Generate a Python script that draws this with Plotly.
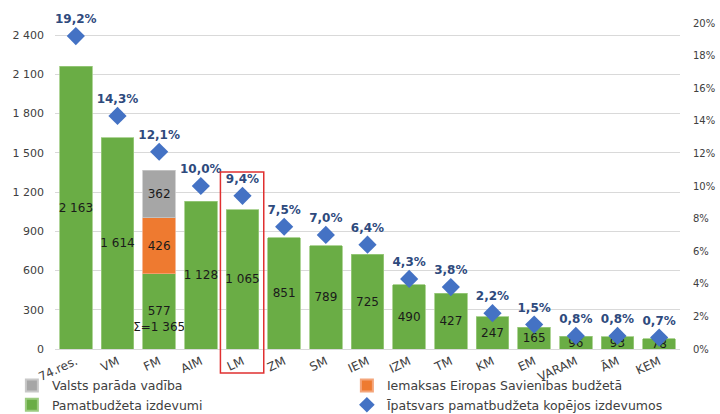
import plotly.graph_objects as go

categories = ["74.res.", "VM", "FM", "AIM", "LM", "ZM", "SM", "IEM", "IZM", "TM", "KM", "EM", "VARAM", "ĀM", "KEM"]
base_spend = [2163, 1614, 577, 1128, 1065, 851, 789, 725, 490, 427, 247, 165, 96, 93, 78]
eu_contrib = [None, None, 426, None, None, None, None, None, None, None, None, None, None, None, None]
debt_mgmt = [None, None, 362, None, None, None, None, None, None, None, None, None, None, None, None]
share_pct = [19.2, 14.3, 12.1, 10.0, 9.4, 7.5, 7.0, 6.4, 4.3, 3.8, 2.2, 1.5, 0.8, 0.8, 0.7]
fm_total_label = "Σ=1 365"
left_ticks = [0, 300, 600, 900, 1200, 1500, 1800, 2100, 2400]

def fmt_num(v):
    return f"{v:,}".replace(",", " ")

base_text = [fmt_num(v) for v in base_spend]
base_text[2] = "\u00a0<br>" + base_text[2] + "<br>" + fm_total_label
eu_text = ["" if v is None else fmt_num(v) for v in eu_contrib]
debt_text = ["" if v is None else fmt_num(v) for v in debt_mgmt]
share_text = [f"{v:.1f}%".replace(".", ",") for v in share_pct]
share_frac = [v / 100 for v in share_pct]

FONT = "DejaVu Sans, Verdana, sans-serif"
bar_font = dict(family=FONT, size=12, color="#1a1a1a")

fig = go.Figure()
fig.add_trace(go.Bar(
    x=categories, y=base_spend, name="Pamatbudžeta izdevumi",
    marker=dict(color="#6AAD45", line=dict(color="#9CCB80", width=0.8)),
    text=base_text, textposition="inside", insidetextanchor="middle",
    constraintext="none", textfont=bar_font, textangle=0,
    legendrank=3,
))
fig.add_trace(go.Bar(
    x=categories, y=eu_contrib, name="Iemaksas Eiropas Savienības budžetā",
    marker=dict(color="#EE7A30", line=dict(color="#F4A57A", width=0.8)),
    text=eu_text, textposition="inside", insidetextanchor="middle",
    constraintext="none", textfont=bar_font, textangle=0,
    legendrank=2,
))
fig.add_trace(go.Bar(
    x=categories, y=debt_mgmt, name="Valsts parāda vadība",
    marker=dict(color="#A6A6A6", line=dict(color="#C8C8C8", width=0.8)),
    text=debt_text, textposition="inside", insidetextanchor="middle",
    constraintext="none", textfont=bar_font, textangle=0,
    legendrank=1,
))
fig.add_trace(go.Scatter(
    x=categories, y=share_frac, yaxis="y2", name="Īpatsvars pamatbudžeta kopējos izdevumos",
    mode="markers+text",
    marker=dict(symbol="diamond", size=14, color="#4472C4"),
    text=share_text, textposition="top center",
    textfont=dict(family=FONT, size=12, color="#2E4A7D", weight="bold"),
    cliponaxis=False,
    legendrank=4,
))

fig.add_shape(type="rect", xref="x", yref="paper",
              x0=3.47, x1=4.51, y0=-0.074, y1=0.543,
              line=dict(color="#E03030", width=1.5), fillcolor="rgba(0,0,0,0)")

fig.update_layout(
    width=720, height=414,
    margin=dict(l=55, r=40, t=23, b=65, autoexpand=False),
    barmode="stack", bargap=0.22,
    separators=", ",
    plot_bgcolor="white", paper_bgcolor="white",
    font=dict(family=FONT, size=12, color="#404040"),
    xaxis=dict(tickangle=-25, tickfont=dict(size=12, color="#404040"),
               showline=True, linecolor="#D9D9D9", linewidth=1,
               ticks="", range=[-0.5, 14.5]),
    yaxis=dict(range=[0, 2492], tickvals=left_ticks,
               tickformat=",d", showgrid=True, gridcolor="#D9D9D9", gridwidth=1,
               zeroline=False, ticklabelstandoff=10, tickfont=dict(size=11, color="#404040")),
    yaxis2=dict(overlaying="y", side="right", range=[0, 0.2], dtick=0.02,
                tickformat=".0%", showgrid=False, zeroline=False,
                ticklabelstandoff=12, tickfont=dict(size=10, color="#404040")),
    showlegend=True,
    legend=dict(orientation="h", x=-0.069, y=-0.067, xanchor="left", yanchor="top",
                entrywidth=290, entrywidthmode="pixels", itemsizing="constant",
                font=dict(family=FONT, size=12.5, color="#404040"),
                traceorder="normal", itemwidth=30, tracegroupgap=0,
                bgcolor="rgba(0,0,0,0)"),
)

fig.write_html("out.html", config={"displayModeBar": False},
               post_script="document.body.style.margin='0';")
